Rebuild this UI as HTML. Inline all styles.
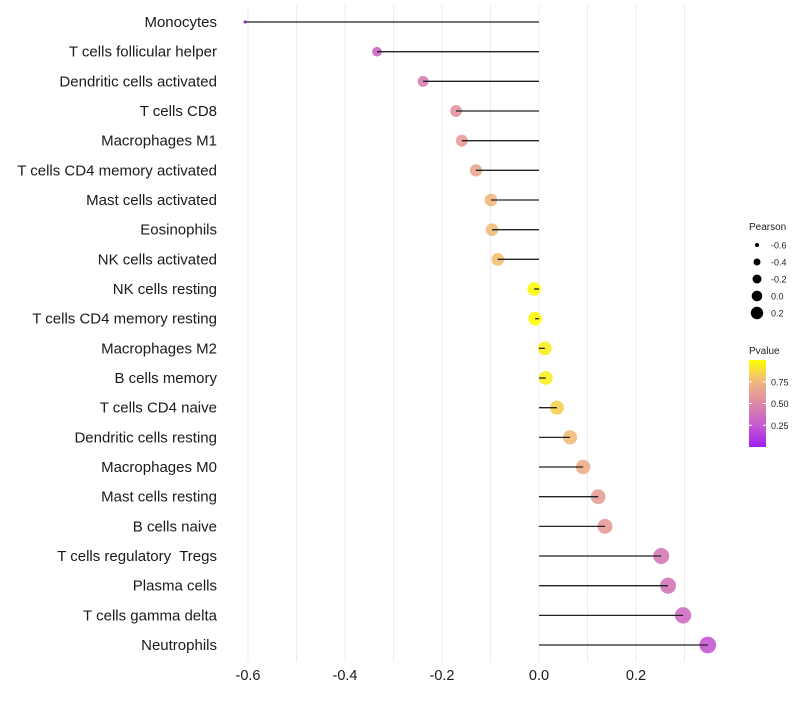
<!DOCTYPE html>
<html><head><meta charset="utf-8"><style>
body{margin:0;background:#fff;font-family:"Liberation Sans",sans-serif}
text{white-space:pre}
</style></head><body>
<svg id="chart" width="800" height="700" xmlns="http://www.w3.org/2000/svg">
<defs><linearGradient id="pg" x1="0" y1="1" x2="0" y2="0">
<stop offset="0" stop-color="#a020f0"/><stop offset="0.25" stop-color="#c55bd0"/><stop offset="0.5" stop-color="#dd88a8"/><stop offset="0.75" stop-color="#f0b880"/><stop offset="1" stop-color="#ffff00"/>
</linearGradient></defs>
<g id="grid"></g><g id="marks"></g><g id="labels"></g><g id="legend"></g>
</svg>
<script>
const categories=["Monocytes","T cells follicular helper","Dendritic cells activated","T cells CD8","Macrophages M1","T cells CD4 memory activated","Mast cells activated","Eosinophils","NK cells activated","NK cells resting","T cells CD4 memory resting","Macrophages M2","B cells memory","T cells CD4 naive","Dendritic cells resting","Macrophages M0","Mast cells resting","B cells naive","T cells regulatory  Tregs","Plasma cells","T cells gamma delta","Neutrophils"];
const pearson=[-0.606,-0.334,-0.239,-0.171,-0.159,-0.130,-0.099,-0.097,-0.085,-0.010,-0.008,0.012,0.014,0.037,0.064,0.091,0.122,0.136,0.252,0.266,0.297,0.348];
const pvalue=[0.02,0.3,0.45,0.55,0.6,0.66,0.75,0.76,0.78,0.98,0.98,0.94,0.94,0.84,0.76,0.7,0.62,0.6,0.42,0.4,0.34,0.24];
const xTicks=[-0.6,-0.4,-0.2,0.0,0.2];
const legendPearson=[-0.6,-0.4,-0.2,0.0,0.2];
const legendP=[0.75,0.50,0.25];
const NS="http://www.w3.org/2000/svg";
const x=v=>539+v*485;
const y=i=>22+i*29.667;
const r=v=>v<-0.5?1.6:1.12*Math.sqrt(18.5+55*(v+0.334));
const stops=[[0,[160,32,240]],[0.25,[197,91,208]],[0.5,[221,136,168]],[0.75,[240,184,128]],[1,[255,255,0]]];
function col(p){for(let k=1;k<stops.length;k++){if(p<=stops[k][0]){const a=stops[k-1],b=stops[k];const t=(p-a[0])/(b[0]-a[0]);return `rgb(${a[1].map((c,j)=>Math.round(c+(b[1][j]-c)*t)).join(',')})`;}}return 'rgb(255,255,0)';}
function mk(t,at,parent){const e=document.createElementNS(NS,t);for(const k in at)e.setAttribute(k,at[k]);parent.appendChild(e);return e;}
const grid=document.getElementById('grid'),marks=document.getElementById('marks'),labels=document.getElementById('labels'),legend=document.getElementById('legend');
for(let v=-0.6;v<=0.35;v+=0.1){const g=mk('line',{x1:x(v),x2:x(v),y1:5,y2:662,stroke:'#ececec','stroke-width':1},grid);

}
xTicks.forEach(v=>{const t=mk('text',{x:x(v),y:680,'text-anchor':'middle','font-size':14.5,fill:'#1a1a1a'},labels);t.textContent=v.toFixed(1);

});
categories.forEach((c,i)=>{
const t=mk('text',{x:217,y:y(i)+5,'text-anchor':'end','font-size':15,fill:'#1a1a1a'},labels);t.textContent=c;


const d=mk('circle',{cx:x(pearson[i]),cy:y(i),r:r(pearson[i]),fill:col(pvalue[i]),'fill-opacity':0.9},marks);


const l=mk('line',{x1:x(0),x2:x(pearson[i]),y1:y(i),y2:y(i),stroke:'#222','stroke-width':1.3},marks);


});
const lt=mk('text',{x:749,y:230,'font-size':10,fill:'#222'},legend);lt.textContent='Pearson';


const legR=[2,3.5,4.5,5.3,6.2];
legendPearson.forEach((v,i)=>{const yy=245+i*17;
const c=mk('circle',{cx:757,cy:yy,r:legR[i],fill:'#000'},legend);


const t=mk('text',{x:771,y:yy+3.5,'font-size':9,fill:'#222'},legend);t.textContent=v.toFixed(1);

});
const pt=mk('text',{x:749,y:354,'font-size':10,fill:'#222'},legend);pt.textContent='Pvalue';


const bar=mk('rect',{x:749,y:360,width:17,height:87,fill:'url(#pg)'},legend);


legendP.forEach(v=>{const yy=447-v*87;
[749,763].forEach(xx=>{const tk=mk('line',{x1:xx,x2:xx+3,y1:yy,y2:yy,stroke:'#fff'},legend);

});
const t=mk('text',{x:771,y:yy+3.5,'font-size':9,fill:'#222'},legend);t.textContent=v.toFixed(2);

});
</script>
</body></html>
